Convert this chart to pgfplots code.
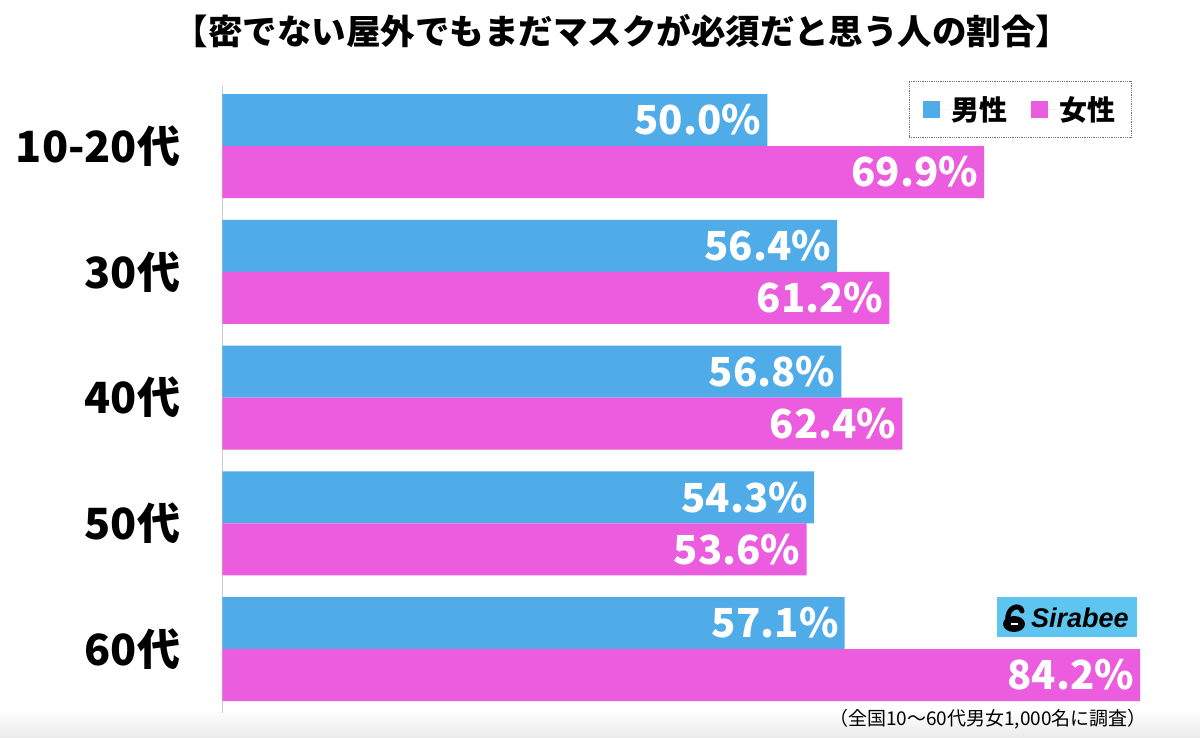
\documentclass[border=0pt]{standalone}
\usepackage{pgfplots}
\pgfplotsset{compat=1.18}
\usepackage{fontspec}
\setmainfont{Noto Sans CJK JP}
\newfontfamily\logofont{Liberation Sans}
\definecolor{mblue}{RGB}{79,172,232}
\definecolor{mpink}{RGB}{235,92,222}
\definecolor{logoblue}{RGB}{94,196,240}
\begin{document}
\begin{tikzpicture}[x=1pt,y=1pt]
\useasboundingbox (0,0) rectangle (1200,737);
\fill[white] (0,0) rectangle (1200,737);
\shade[top color=white, bottom color=black!8] (0,0) rectangle (1200,28);
\node[font=\bfseries\fontsize{34.5}{34.5}\selectfont] at (622,706) {【密でない屋外でもまだマスクが必須だと思う人の割合】};
\begin{axis}[
  at={(204,19)}, anchor=south west, scale only axis,
  width=928pt, height=627pt,
  xmin=0, xmax=85.14, ymin=-0.509, ymax=4.477,
  xbar, bar width=52pt,
  axis x line=none, axis y line*=left,
  y axis line style={black!20, line width=1pt},
  ytick={0,1,2,3,4},
  yticklabels={60代,50代,40代,30代,10-20代},
  major tick length=0pt,
  yticklabel style={font=\bfseries\fontsize{43}{43}\selectfont, anchor=east, inner sep=0pt, xshift=-42pt},
  nodes near coords={\pgfmathprintnumber{\pgfplotspointmeta}\%},
  every node near coord/.append style={anchor=east, text=white, font=\bfseries\fontsize{40}{40}\selectfont, inner sep=0pt, xshift=-6pt},
  /pgf/number format/.cd, fixed, fixed zerofill, precision=1, assume math mode=true, /pgfplots/.cd,
  legend columns=2,
  legend image code/.code={\fill[#1, draw=none] (0pt,-8.5pt) rectangle (17pt,8.5pt); \path (0pt,0pt) -- (26pt,0pt);},
  legend style={at={(0.9796,1.008)}, anchor=north east, draw=black!55, densely dotted, line width=0.8pt,
    font=\bfseries\fontsize{28}{28}\selectfont, inner xsep=14pt, inner ysep=13pt,
    /tikz/every even column/.append style={column sep=22pt}, text depth=0pt},
]
\addplot[fill=mblue, draw=none, bar shift=26pt] coordinates {(50.0,4) (56.4,3) (56.8,2) (54.3,1) (57.1,0)};
\addplot[fill=mpink, draw=none, bar shift=-26pt] coordinates {(69.9,4) (61.2,3) (62.4,2) (53.6,1) (84.2,0)};
\legend{男性,女性}
\end{axis}
\fill[logoblue] (997,100) rectangle (1137,140);
\fill[black] (1014,113) ellipse (11 and 8);
\draw[black, line width=5pt, line cap=round] (1008,116) .. controls (1006,130) and (1020,134) .. (1022,126);
\fill[white] (1010.5,112) rectangle (1017.5,114.5);
\node[font=\logofont\bfseries\itshape\fontsize{27}{27}\selectfont, anchor=west, inner sep=0pt] at (1031,119) {Sirabee};
\node[font=\fontsize{19}{19}\selectfont] at (988,18) {（全国10〜60代男女1,000名に調査）};
\end{tikzpicture}
\end{document}
